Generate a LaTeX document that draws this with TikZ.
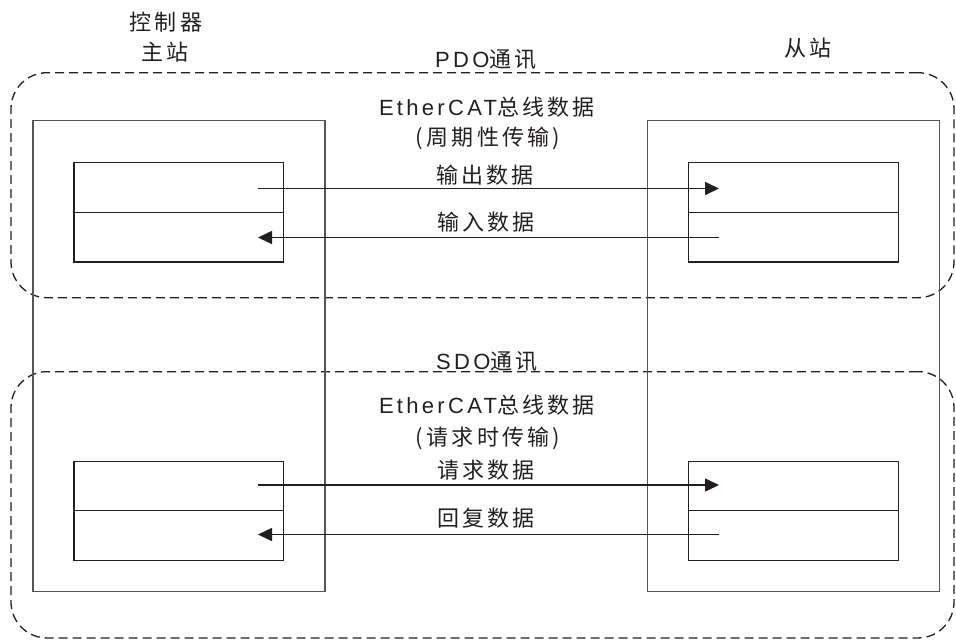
\documentclass[tikz,border=0pt]{standalone}
\usepackage{fontspec}
\setmainfont{Liberation Sans}
\newfontfamily\cjk[LetterSpace=15]{Noto Sans CJK SC}
\newfontfamily\lat[LetterSpace=15]{Liberation Sans}
\usetikzlibrary{arrows.meta}
\definecolor{ink}{HTML}{231F20}
\definecolor{boxgray}{HTML}{555555}
\tikzset{
  dashbox/.style={draw=ink, line width=1.3pt, dash pattern=on 9pt off 5pt, rounded corners=36pt, inner sep=0pt},
  bigbox/.style={draw=boxgray, line width=1.1pt, inner sep=0pt, minimum width=292pt, minimum height=471pt},
  inbox/.style={draw=ink, line width=1.2pt, inner sep=0pt, minimum width=209.7pt, minimum height=99.3pt},
  flow/.style={draw=ink, line width=1.6pt, -{Triangle[length=14pt,width=13pt]}},
  lbl/.style={text=ink, inner sep=0pt, font=\fontsize{22}{26}\selectfont\cjk, align=center},
}
\begin{document}
\begin{tikzpicture}[x=1pt,y=-1pt]
\useasboundingbox (0,0) rectangle (956,641);
% dashed communication regions
\node[dashbox, minimum width=943pt, minimum height=225pt] (pdo) at (482.5,185.2) {};
\node[dashbox, minimum width=943pt, minimum height=266.3pt] (sdo) at (482.5,504.8) {};
% stations
\node[bigbox] (master) at (179,356.2) {};
\node[bigbox] (slave) at (793.5,356.2) {};
% inner data boxes
\node[inbox] (m1) at (178.85,212.35) {};
\node[inbox] (s1) at (793.5,212.35) {};
\node[inbox] (m2) at (178.85,510.85) {};
\node[inbox] (s2) at (793.5,510.85) {};
\draw[draw=ink, line width=1.2pt] (m1.west) -- (m1.east);
\draw[draw=ink, line width=1.2pt] (s1.west) -- (s1.east);
\draw[draw=ink, line width=1.2pt] (m2.west) -- (m2.east);
\draw[draw=ink, line width=1.2pt] (s2.west) -- (s2.east);
% connector end points
\coordinate (m1a) at (258,188.5);
\coordinate (s1a) at (719,188.5);
\coordinate (m1b) at (258,237.5);
\coordinate (s1b) at (719,237.5);
\coordinate (m2a) at (258,485);
\coordinate (s2a) at (719,485);
\coordinate (m2b) at (258,534.5);
\coordinate (s2b) at (719,534.5);
\draw[flow] (m1a) -- (s1a);
\draw[flow] (s1b) -- (m1b);
\draw[flow] (m2a) -- (s2a);
\draw[flow] (s2b) -- (m2b);
% labels
\node[lbl] (t1) at (166,21.7) {控制器};
\node[lbl] (t2) at (165,51.7) {主站};
\node[lbl] (t3) at (808,48.3) {从站};
\node[lbl] (t4) at (486,60) {{\lat PDO}通讯};
\node[lbl] (t5) at (487,106.7) {{\lat EtherCAT}总线数据};
\node[lbl] (t6) at (488,138.3) {(周期性传输)};
\node[lbl] (t7) at (485,175) {输出数据};
\node[lbl] (t8) at (486,221.7) {输入数据};
\node[lbl] (t9) at (487,361.7) {{\lat SDO}通讯};
\node[lbl] (t10) at (487,405) {{\lat EtherCAT}总线数据};
\node[lbl] (t11) at (488,438) {(请求时传输)};
\node[lbl] (t12) at (486,470) {请求数据};
\node[lbl] (t13) at (486,518) {回复数据};
\end{tikzpicture}
\end{document}
